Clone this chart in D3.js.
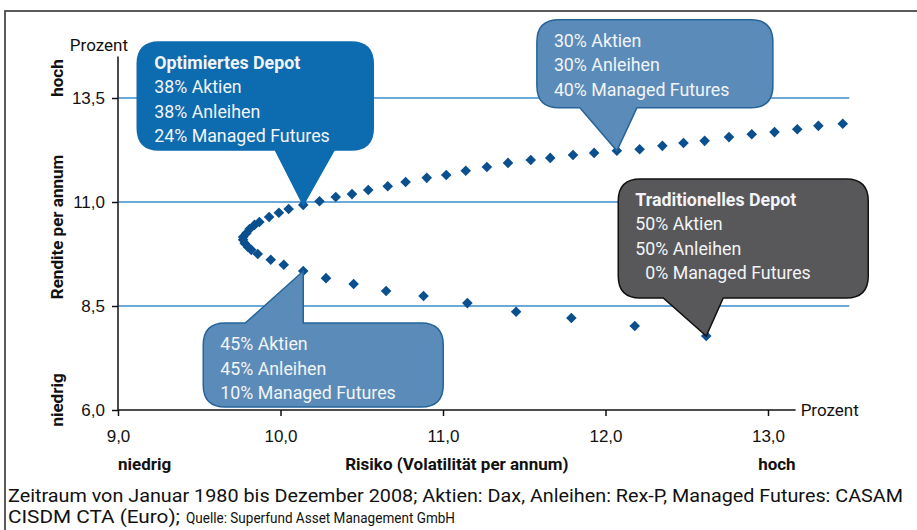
<!DOCTYPE html>
<html>
<head>
<meta charset="utf-8">
<script src="https://cdn.jsdelivr.net/npm/d3@7"></script>
<style>
  body { margin: 0; background: #fff; }
  svg { display: block; font-family: Roboto, 'Noto Sans', sans-serif; }
  .tick text { font-size: 17px; fill: #111; }
  .lbl { font-size: 17px; font-weight: bold; fill: #111; }
</style>
</head>
<body>
<div id="container"></div>
<script>
const width = 917
const height = 530

// --- data: risk (x) and return (y) of each portfolio on the curve ---
const riskValues = [12.62, 12.18, 11.79, 11.45, 11.15, 10.88, 10.65, 10.45, 10.28, 10.14,
    10.02, 9.94, 9.86, 9.82, 9.80, 9.78, 9.77, 9.77, 9.79, 9.81,
    9.84, 9.87, 9.93, 9.99, 10.05, 10.14, 10.24, 10.34, 10.44, 10.54,
    10.66, 10.77, 10.90, 11.02, 11.14, 11.27, 11.40, 11.54, 11.66, 11.80,
    11.93, 12.07, 12.21, 12.35, 12.48, 12.61, 12.76, 12.90, 13.04, 13.18,
    13.31, 13.46]
const returnValues = [7.78, 8.02, 8.21, 8.36, 8.57, 8.74, 8.86, 9.03, 9.17, 9.34,
    9.49, 9.61, 9.75, 9.85, 9.92, 10.01, 10.09, 10.16, 10.25, 10.35,
    10.45, 10.52, 10.64, 10.74, 10.83, 10.93, 11.02, 11.12, 11.19, 11.29,
    11.38, 11.48, 11.58, 11.65, 11.75, 11.84, 11.94, 12.01, 12.06, 12.13,
    12.18, 12.23, 12.27, 12.35, 12.42, 12.47, 12.56, 12.63, 12.68, 12.75,
    12.83, 12.88]

const xTicks = [9, 10, 11, 12, 13]
const yTicks = [6, 8.5, 11, 13.5]

// callouts: which point they mark, heading and lines
const calloutPoint = [25, 41, 9, 0]
const calloutHead = ['Optimiertes Depot', '', '', 'Traditionelles Depot']
const calloutLines = [
    ['38% Aktien', '38% Anleihen', '24% Managed Futures'],
    ['30% Aktien', '30% Anleihen', '40% Managed Futures'],
    ['45% Aktien', '45% Anleihen', '10% Managed Futures'],
    ['50% Aktien', '50% Anleihen', '\u20070% Managed Futures']
]

// box geometry relative to the tip (layout only)
const calloutBox = [
    { l: -166, r: 70, t: -163, b: -55, a: -28, c: 31, fill: '#0d6bb0', stroke: '#0d6bb0' },
    { l: -80, r: 156, t: -131, b: -43, a: -37, c: 20, fill: '#5b8cb9', stroke: '#24649a' },
    { l: -100, r: 140, t: 52, b: 136, a: -58, c: 0, fill: '#5b8cb9', stroke: '#24649a' },
    { l: -88, r: 162, t: -157, b: -38, a: -43, c: 17, fill: '#58585a', stroke: '#111' }
]

const svg = d3.select('div#container').append('svg')
    .attr('width', width)
    .attr('height', height)

// frame
svg.append('rect')
    .attr('x', 5).attr('y', 11)
    .attr('width', 940).attr('height', 560)
    .attr('fill', 'none')
    .attr('stroke', '#333')
    .attr('stroke-width', 1.6)

//----------------------------SCALES----------------------------//
const xScale = d3.scaleLinear().domain([9, 13]).range([118, 768])
const yScale = d3.scaleLinear().domain([6, 13.5]).range([410, 98])
const fmt = n => d3.format('.1f')(n).replace('.', ',')

//---------------------------GRIDLINES--------------------------//
svg.append('g').selectAll('line')
    .data(yTicks.filter(d => d > 6))
    .enter().append('line')
    .attr('x1', xScale(9)).attr('x2', xScale(13.5))
    .attr('y1', d => yScale(d)).attr('y2', d => yScale(d))
    .attr('stroke', '#3b8dc8')
    .attr('stroke-width', 1.5)

//-----------------------------AXES-----------------------------//
const xaxis = d3.axisBottom(xScale).tickValues(xTicks).tickFormat(fmt)
    .tickSize(6).tickPadding(14)
const yaxis = d3.axisLeft(yScale).tickValues(yTicks).tickFormat(fmt)
    .tickSize(6).tickPadding(7)

const gx = svg.append('g')
    .attr('transform', 'translate(0,' + yScale(6) + ')')
    .call(xaxis)
gx.select('.domain').remove()
gx.selectAll('.tick line').attr('stroke', '#111').attr('stroke-width', 1.5)
gx.append('line')
    .attr('x1', xScale(9)).attr('x2', xScale(13.17))
    .attr('stroke', '#111').attr('stroke-width', 1.5)

const gy = svg.append('g')
    .attr('transform', 'translate(' + xScale(9) + ',0)')
    .call(yaxis)
gy.select('.domain').remove()
gy.selectAll('.tick line').attr('stroke', '#111').attr('stroke-width', 1.5)
gy.append('line')
    .attr('y1', yScale(6)).attr('y2', yScale(14.5))
    .attr('stroke', '#111').attr('stroke-width', 1.5)

gx.selectAll('.tick text').attr('font-family', null).attr('font-size', null)
gy.selectAll('.tick text').attr('font-family', null).attr('font-size', null)

// axis labels
svg.append('text').attr('class', 'lbl').attr('x', xScale(9)).attr('y', 470).text('niedrig')
svg.append('text').attr('class', 'lbl').attr('x', (xScale(9) + xScale(13.17)) / 2).attr('y', 470)
    .attr('text-anchor', 'middle').text('Risiko (Volatilität per annum)')
svg.append('text').attr('class', 'lbl').attr('x', xScale(13.17)).attr('y', 470)
    .attr('text-anchor', 'end').text('hoch')

svg.append('text').attr('x', 128).attr('y', 51).attr('text-anchor', 'end')
    .attr('font-size', 17).attr('fill', '#111').text('Prozent')
svg.append('text').attr('x', xScale(13.17) + 5).attr('y', yScale(6) + 6)
    .attr('font-size', 17).attr('fill', '#111').text('Prozent')

const yLabels = [['hoch', 78], ['Rendite per annum', 227], ['niedrig', 400]]
yLabels.forEach(([t, cy]) => {
    svg.append('text').attr('class', 'lbl')
        .attr('transform', 'translate(63,' + cy + ') rotate(-90)')
        .attr('text-anchor', 'middle')
        .text(t)
})

//----------------------------POINTS----------------------------//
const points = riskValues.map((r, i) => ({ x: r, y: returnValues[i] }))
svg.append('g').selectAll('path')
    .data(points)
    .enter().append('path')
    .attr('d', d3.symbol(d3.symbolSquare, 56))
    .attr('transform', d => 'translate(' + xScale(d.x) + ',' + yScale(d.y) + ') rotate(45)')
    .attr('fill', '#0a4f8e')

//---------------------------CALLOUTS---------------------------//
const rad = 22
calloutPoint.forEach((idx, k) => {
    const tx = xScale(riskValues[idx]), ty = yScale(returnValues[idx])
    const b = calloutBox[k]
    const x0 = tx + b.l, x1 = tx + b.r, y0 = ty + b.t, y1 = ty + b.b
    const ba = tx + b.a, bc = tx + b.c
    let p
    if (b.t > 0) { // tail on the top edge
        p = `M${x0 + rad},${y0} H${ba} L${tx},${ty} L${bc},${y0} H${x1 - rad}`
          + ` Q${x1},${y0} ${x1},${y0 + rad} V${y1 - rad} Q${x1},${y1} ${x1 - rad},${y1}`
          + ` H${x0 + rad} Q${x0},${y1} ${x0},${y1 - rad} V${y0 + rad} Q${x0},${y0} ${x0 + rad},${y0} Z`
    } else {
        p = `M${x0 + rad},${y0} H${x1 - rad} Q${x1},${y0} ${x1},${y0 + rad} V${y1 - rad}`
          + ` Q${x1},${y1} ${x1 - rad},${y1} H${bc} L${tx},${ty} L${ba},${y1} H${x0 + rad}`
          + ` Q${x0},${y1} ${x0},${y1 - rad} V${y0 + rad} Q${x0},${y0} ${x0 + rad},${y0} Z`
    }
    svg.append('path').attr('d', p)
        .attr('fill', b.fill).attr('stroke', b.stroke).attr('stroke-width', 1.5)

    const rows = (calloutHead[k] ? [calloutHead[k]] : []).concat(calloutLines[k])
    svg.append('g').selectAll('text')
        .data(rows)
        .enter().append('text')
        .attr('x', x0 + 17)
        .attr('y', (d, i) => y0 + 27 + i * 24.5)
        .attr('font-size', 17.8)
        .attr('font-weight', (d, i) => (calloutHead[k] && i === 0) ? 'bold' : 'normal')
        .attr('fill', '#f2f4f7')
        .text(d => d)
})

//----------------------------FOOTER----------------------------//
svg.append('text').attr('x', 8).attr('y', 502).attr('font-size', 18).attr('fill', '#111')
    .attr('textLength', 895).attr('lengthAdjust', 'spacingAndGlyphs')
    .text('Zeitraum von Januar 1980 bis Dezember 2008; Aktien: Dax, Anleihen: Rex-P, Managed Futures: CASAM')
svg.append('text').attr('x', 8).attr('y', 523).attr('font-size', 18).attr('fill', '#111')
    .attr('textLength', 172).attr('lengthAdjust', 'spacingAndGlyphs')
    .text('CISDM CTA (Euro);')
svg.append('text').attr('x', 186).attr('y', 523).attr('font-size', 14).attr('fill', '#111')
    .attr('textLength', 269).attr('lengthAdjust', 'spacingAndGlyphs')
    .text('Quelle: Superfund Asset Management GmbH')
</script>
</body>
</html>
